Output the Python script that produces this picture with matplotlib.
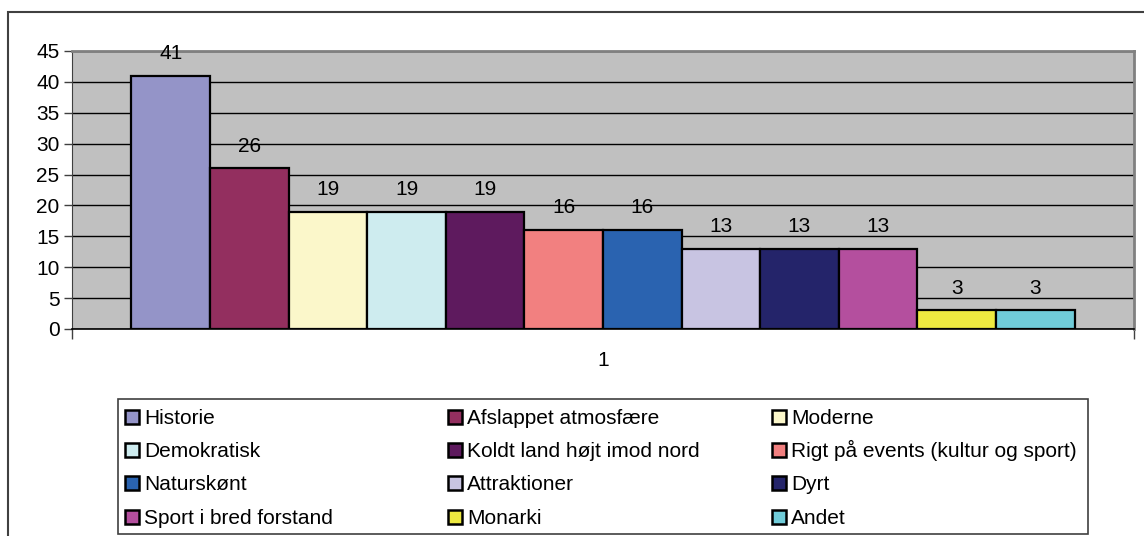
import matplotlib.pyplot as plt
from matplotlib.patches import Rectangle

plt.rcParams['font.family'] = ['Liberation Sans', 'DejaVu Sans']

categories = [
    "Historie", "Afslappet atmosfære", "Moderne",
    "Demokratisk", "Koldt land højt imod nord", "Rigt på events (kultur og sport)",
    "Naturskønt", "Attraktioner", "Dyrt",
    "Sport i bred forstand", "Monarki", "Andet",
]
values = [41, 26, 19, 19, 19, 16, 16, 13, 13, 13, 3, 3]
colors = [
    "#9494C8", "#932F5F", "#FBF7CA",
    "#CEECEF", "#5E1A5E", "#F28080",
    "#2A63B0", "#C8C4E2", "#24246A",
    "#B44F9E", "#EDE940", "#70CCD9",
]
x_label = "1"

W, H = 1144, 536
FS = 15
fig = plt.figure(figsize=(W / 100, H / 100), dpi=100)
ax = fig.add_axes([72 / W, 1 - 329 / H, (1134 - 72) / W, (329 - 51) / H])
ax.set_facecolor("#C0C0C0")

# one category, twelve series side by side
n = len(values)
group = 0.888
w = group / n
for i, (v, c) in enumerate(zip(values, colors)):
    xc = -group / 2 + w * (i + 0.5)
    ax.bar(xc, v, width=w, color=c, edgecolor="black", linewidth=1.6, zorder=3)
    ax.annotate(str(v), (xc, v), xytext=(0, 16), textcoords="offset points",
                ha="center", va="center", fontsize=FS, zorder=4)

ax.set_xlim(-0.5, 0.5)
ax.set_ylim(0, 45)
ax.set_yticks(range(0, 46, 5))
ax.yaxis.grid(True, color="black", linewidth=1.0, zorder=1)
ax.set_axisbelow(True)
ax.tick_params(axis="y", labelsize=FS, length=6, width=1, color="#404040", pad=3)

ax.set_xticks([-0.5, 0.5])
ax.set_xticklabels(["", ""])
ax.set_xticks([0], [x_label], minor=True)
ax.tick_params(axis="x", which="major", length=7, width=1, color="#404040")
ax.tick_params(axis="x", which="minor", length=0, labelsize=FS, pad=16)

for side in ("top", "right"):
    ax.spines[side].set_color("#808080")
    ax.spines[side].set_linewidth(2)
ax.spines["left"].set_color("#404040")
ax.spines["bottom"].set_color("black")
ax.spines["bottom"].set_linewidth(1.2)

# outer chart frame
fig.patches.append(Rectangle((8 / W, -0.1), 1.2, 1.1 - 12 / H, transform=fig.transFigure,
                             fill=False, edgecolor="#404040", linewidth=1.5))

# legend box with a 3-column grid of swatches, filled row by row
fig.patches.append(Rectangle((118 / W, 1 - 534 / H), (1088 - 118) / W, (534 - 399) / H,
                             transform=fig.transFigure, fill=False,
                             edgecolor="#404040", linewidth=1.2))
col_x = [125, 448, 772]
row_y = [417, 450, 483, 517]
sw = 14
for k, (label, c) in enumerate(zip(categories, colors)):
    x0, y0 = col_x[k % 3], row_y[k // 3]
    fig.patches.append(Rectangle((x0 / W, 1 - (y0 + sw / 2) / H), sw / W, sw / H,
                                 transform=fig.transFigure, facecolor=c,
                                 edgecolor="black", linewidth=1.8))
    fig.text((x0 + sw + 5) / W, 1 - (y0 + 7) / H, label, fontsize=FS,
             ha="left", va="baseline")

fig.savefig("out.png", dpi=100)
